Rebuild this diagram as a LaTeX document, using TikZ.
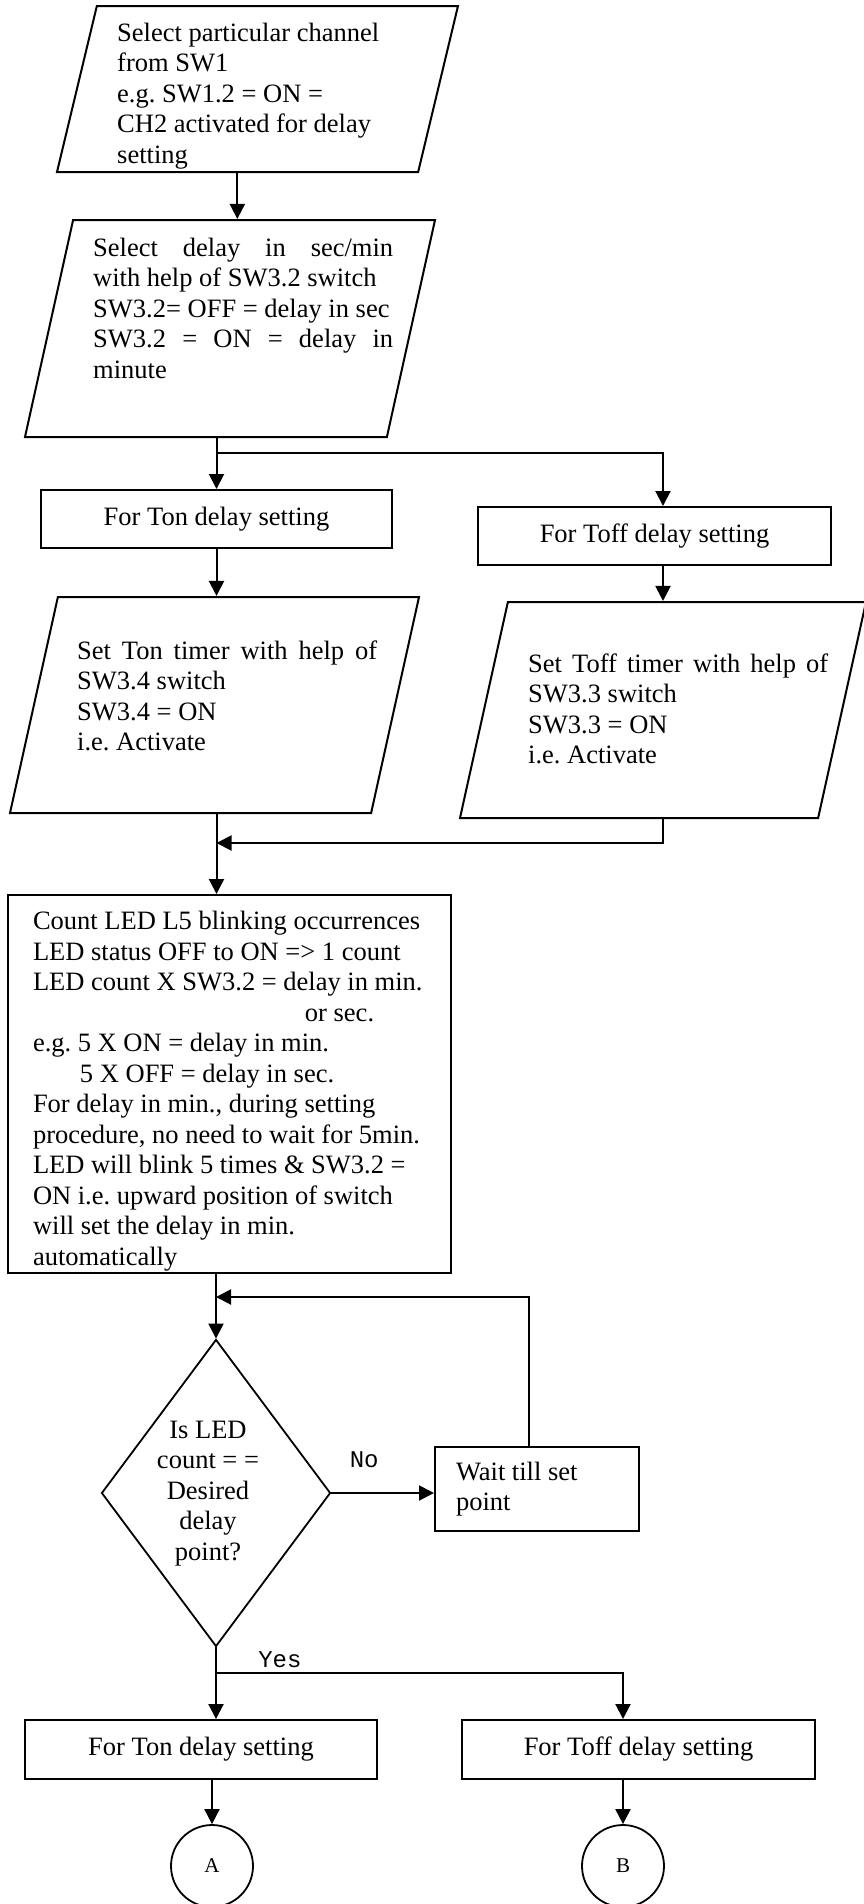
\documentclass[tikz,border=0pt]{standalone}
\usepackage{fontspec}
\setmainfont{Liberation Serif}
\setmonofont{Liberation Mono}
\usetikzlibrary{arrows.meta}
\usetikzlibrary{shapes.geometric}
\newcommand{\bodysize}{\fontsize{26.5}{30.5}\selectfont}
\frenchspacing

\begin{document}
\begin{tikzpicture}[x=1pt, y=-1pt,
		every node/.style={font=\bodysize, inner sep=0pt},
		proc/.style={draw, line width=2pt, rectangle},
		io/.style={draw, line width=2pt, trapezium, trapezium left angle=#1, trapezium right angle=180-#1, trapezium stretches body},
		io/.default=77.5,
		test/.style={draw, line width=1.8pt, diamond, aspect=0.75},
		conn/.style={draw, line width=1.8pt, circle, font=\fontsize{21}{25}\selectfont},
		arr/.style={line width=2pt, -{Triangle[length=15pt, width=15pt]}},
		lbl/.style={font=\ttfamily\fontsize{24}{28}\selectfont}]
	\useasboundingbox (0,0) rectangle (864,1904);

	\node[io=76.5, minimum width=401, minimum height=166] (p1) at (257.5,89) {\rule{0pt}{166pt}};
	\node[anchor=base west] (t1) at (117,41) {\parbox[t]{290pt}{Select particular channel\\from SW1\\e.g. SW1.2 = ON =\\CH2 activated for delay\\setting}};

	\node[io, minimum width=410, minimum height=217] (p2) at (230,328.5) {\rule{0pt}{217pt}};
	\node[anchor=base west] (t2) at (93,256) {\parbox[t]{300pt}{\makebox[300pt][s]{Select delay in sec/min}\\with help of SW3.2 switch\\SW3.2= OFF = delay in sec\\\makebox[300pt][s]{SW3.2 = ON = delay in}\\minute}};

	\node[proc, minimum width=351, minimum height=58] (ton1) at (216.5,519) {For Ton delay setting};
	\node[proc, minimum width=353, minimum height=58] (toff1) at (654.5,536) {For Toff delay setting};

	\node[io, minimum width=409, minimum height=216] (p3) at (214.5,705) {\rule{0pt}{216pt}};
	\node[anchor=base west] (t3) at (77,659) {\parbox[t]{300pt}{\makebox[300pt][s]{Set Ton timer with help of}\\SW3.4 switch\\SW3.4 = ON\\i.e. Activate}};

	\node[io, minimum width=406, minimum height=216] (p4) at (663,710) {\rule{0pt}{216pt}};
	\node[anchor=base west] (t4) at (528,672) {\parbox[t]{300pt}{\makebox[300pt][s]{Set Toff timer with help of}\\SW3.3 switch\\SW3.3 = ON\\i.e. Activate}};

	\node[proc, minimum width=443, minimum height=378] (cnt) at (229.5,1084) {\hspace*{7pt}\parbox{400pt}{\rule{0pt}{33pt}Count LED L5 blinking occurrences\\LED status OFF to ON => 1 count\\LED count X SW3.2 = delay in min.\\\hspace*{272pt}or sec.\\e.g. 5 X ON = delay in min.\\\hspace*{47pt}5 X OFF = delay in sec.\\For delay in min., during setting\\procedure, no need to wait for 5min.\\LED will blink 5 times \& SW3.2 =\\ON i.e. upward position of switch\\will set the delay in min.\\automatically}};

	\node[test, minimum width=229, minimum height=307] (dec) at (216,1493) {\hspace*{-16pt}\begin{tabular}{@{}c@{}}Is LED\\count = =\\Desired\\delay\\point?\end{tabular}};
	\node[proc, minimum width=204, minimum height=84] (wait) at (537,1489) {\hspace*{8pt}\parbox{170pt}{Wait till set\\point}};

	\node[proc, minimum width=352, minimum height=59] (ton2) at (201,1749.5) {For Ton delay setting};
	\node[proc, minimum width=353, minimum height=59] (toff2) at (638.5,1749.5) {For Toff delay setting};

	\node[conn, minimum size=82] (ca) at (212,1866) {A};
	\node[conn, minimum size=82] (cb) at (623,1866) {B};

	\coordinate (fork1) at (663,453);
	\coordinate (merge1) at (663,843);
	\coordinate (loop) at (529,1297);
	\coordinate (fork2) at (623,1673);

	\draw[arr] (p1.bottom side) -- (p1.bottom side |- p2.north);
	\draw[arr] (p2.south -| ton1) -- (ton1.north);
	\draw[arr] (fork1 -| ton1) -- (fork1) -- (fork1 |- toff1.north);
	\draw[arr] (ton1.south) -- (ton1.south |- p3.north);
	\draw[arr] (fork1 |- toff1.south) -- (fork1 |- p4.north);
	\draw[arr] (p3.south -| ton1) -- (ton1 |- cnt.north);
	\draw[arr] (merge1 |- p4.south) -- (merge1) -- (merge1 -| ton1);
	\draw[arr] (cnt.south -| dec) -- (dec.north);
	\draw[arr] (dec.east) -- node[lbl, pos=0.32, above=24pt] {No} (dec.east -| wait.west);
	\draw[arr] (loop |- wait.north) -- (loop) -- (loop -| dec);
	\draw[arr] (dec.south) -- (dec.south |- ton2.north);
	\draw[arr] (fork2 -| dec) -- node[lbl, pos=0.157, above=4pt] {Yes} (fork2) -- (fork2 |- toff2.north);
	\draw[arr] (ca |- ton2.south) -- (ca.north);
	\draw[arr] (cb |- toff2.south) -- (cb.north);
\end{tikzpicture}
\end{document}
